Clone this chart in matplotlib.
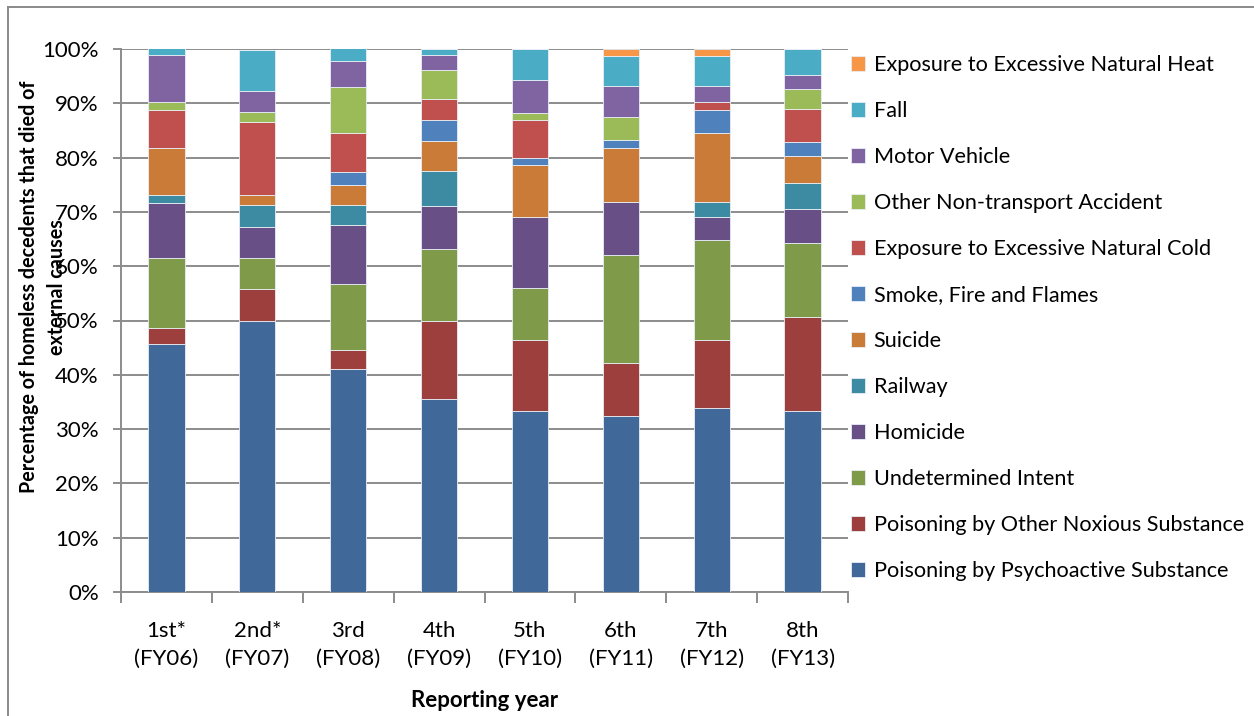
import numpy as np
import matplotlib
matplotlib.use("Agg")
import matplotlib.pyplot as plt
from matplotlib.lines import Line2D
from matplotlib.ticker import FixedLocator, PercentFormatter

plt.rcParams['font.family'] = ['Lato', 'DejaVu Sans']

# reporting years
years = ["1st*\n(FY06)", "2nd*\n(FY07)", "3rd\n(FY08)", "4th\n(FY09)",
         "5th\n(FY10)", "6th\n(FY11)", "7th\n(FY12)", "8th\n(FY13)"]

# share of external-cause deaths (%), stacked bottom to top
psycho = [45.7, 50.0, 41.1, 35.5, 33.3, 32.4, 33.8, 33.3]
other_nox = [2.9, 5.8, 3.5, 14.5, 13.2, 9.8, 12.7, 17.3]
undetermined = [13.0, 5.8, 12.1, 13.2, 9.5, 19.9, 18.3, 13.7]
homicide = [10.0, 5.7, 10.9, 7.9, 13.0, 9.8, 4.2, 6.2]
railway = [1.5, 3.9, 3.6, 6.5, 0.0, 0.0, 2.9, 4.9]
suicide = [8.6, 1.9, 3.7, 5.5, 9.6, 9.9, 12.6, 4.9]
smoke = [0.0, 0.0, 2.4, 3.9, 1.3, 1.4, 4.3, 2.5]
cold = [7.1, 13.4, 7.2, 3.8, 7.1, 0.0, 1.4, 6.2]
other_nt = [1.5, 1.9, 8.5, 5.4, 1.2, 4.2, 0.0, 3.7]
motor = [8.6, 3.8, 4.8, 2.7, 6.0, 5.7, 2.9, 2.5]
fall = [1.2, 7.6, 2.3, 1.1, 5.8, 5.6, 5.6, 4.8]
heat = [0.0, 0.0, 0.0, 0.0, 0.0, 1.3, 1.3, 0.0]

series = [
    ("Poisoning by Psychoactive Substance", psycho, "#40699a"),
    ("Poisoning by Other Noxious Substance", other_nox, "#9d403d"),
    ("Undetermined Intent", undetermined, "#7f9a48"),
    ("Homicide", homicide, "#685087"),
    ("Railway", railway, "#3c8ba3"),
    ("Suicide", suicide, "#cb7b38"),
    ("Smoke, Fire and Flames", smoke, "#4f81bd"),
    ("Exposure to Excessive Natural Cold", cold, "#c0504d"),
    ("Other Non-transport Accident", other_nt, "#9bbb59"),
    ("Motor Vehicle", motor, "#8064a2"),
    ("Fall", fall, "#4bacc6"),
    ("Exposure to Excessive Natural Heat", heat, "#f79646"),
]

W, H = 1254, 716
fs = 16
fig = plt.figure(figsize=(W / 100, H / 100), dpi=100)
ax = fig.add_axes([121 / W, 1 - 592 / H, (848 - 121) / W, (592 - 49) / H])

x = np.arange(len(years))
bottom = np.zeros(len(years))
handles = []
for name, vals, col in series:
    vals = np.array(vals)
    b = ax.bar(x, vals, 0.4, bottom=bottom, color=col, edgecolor="#e8eef5",
               linewidth=0.6, label=name, zorder=3)
    handles.append(b)
    bottom += vals

grid_col = "#8c8c8c"
ax.set_ylim(0, 100)
ax.set_xlim(-0.5, len(years) - 0.5)
ax.set_yticks(np.arange(0, 101, 10))
ax.yaxis.set_major_formatter(PercentFormatter(decimals=0))
ax.grid(axis="y", color=grid_col, linewidth=1.4, zorder=0)
for s in ["top", "right"]:
    ax.spines[s].set_visible(False)
for s in ["left", "bottom"]:
    ax.spines[s].set_color(grid_col)
    ax.spines[s].set_linewidth(1.4)

ax.set_xticks(x)
ax.set_xticklabels(years, fontsize=fs, linespacing=1.5)
ax.xaxis.set_minor_locator(FixedLocator(np.arange(-0.5, len(years), 1.0)))
ax.tick_params(axis="x", which="major", length=0, pad=21)
ax.tick_params(axis="x", which="minor", length=8, width=1.4, color=grid_col)
ax.tick_params(axis="y", length=6, width=1.4, color=grid_col, labelsize=fs, pad=10)

ax.set_xlabel("Reporting year", fontsize=fs, fontweight="bold", labelpad=15)
fig.text(43 / W, 1 - 287 / H,
         "Percentage of homeless decedents that died of\nexternal causes",
         rotation=90, ha="center", va="center", multialignment="center",
         fontsize=14.2, fontweight="bold", linespacing=1.5)

leg = ax.legend(handles[::-1], [s[0] for s in series][::-1],
                loc="upper left", bbox_to_anchor=(851 / W, 1 - 55 / H),
                bbox_transform=fig.transFigure, frameon=False, fontsize=15.6,
                handlelength=0.65, handleheight=0.65, handletextpad=0.4,
                labelspacing=1.2, borderpad=0, borderaxespad=0)

# chart frame
fig.add_artist(Line2D([8 / W, 8 / W], [0, 1 - 7 / H], transform=fig.transFigure,
                      color="#8a8a8a", linewidth=1.4))
fig.add_artist(Line2D([8 / W, 1], [1 - 7 / H, 1 - 7 / H], transform=fig.transFigure,
                      color="#8a8a8a", linewidth=1.4))

fig.savefig("out.png", dpi=100)
